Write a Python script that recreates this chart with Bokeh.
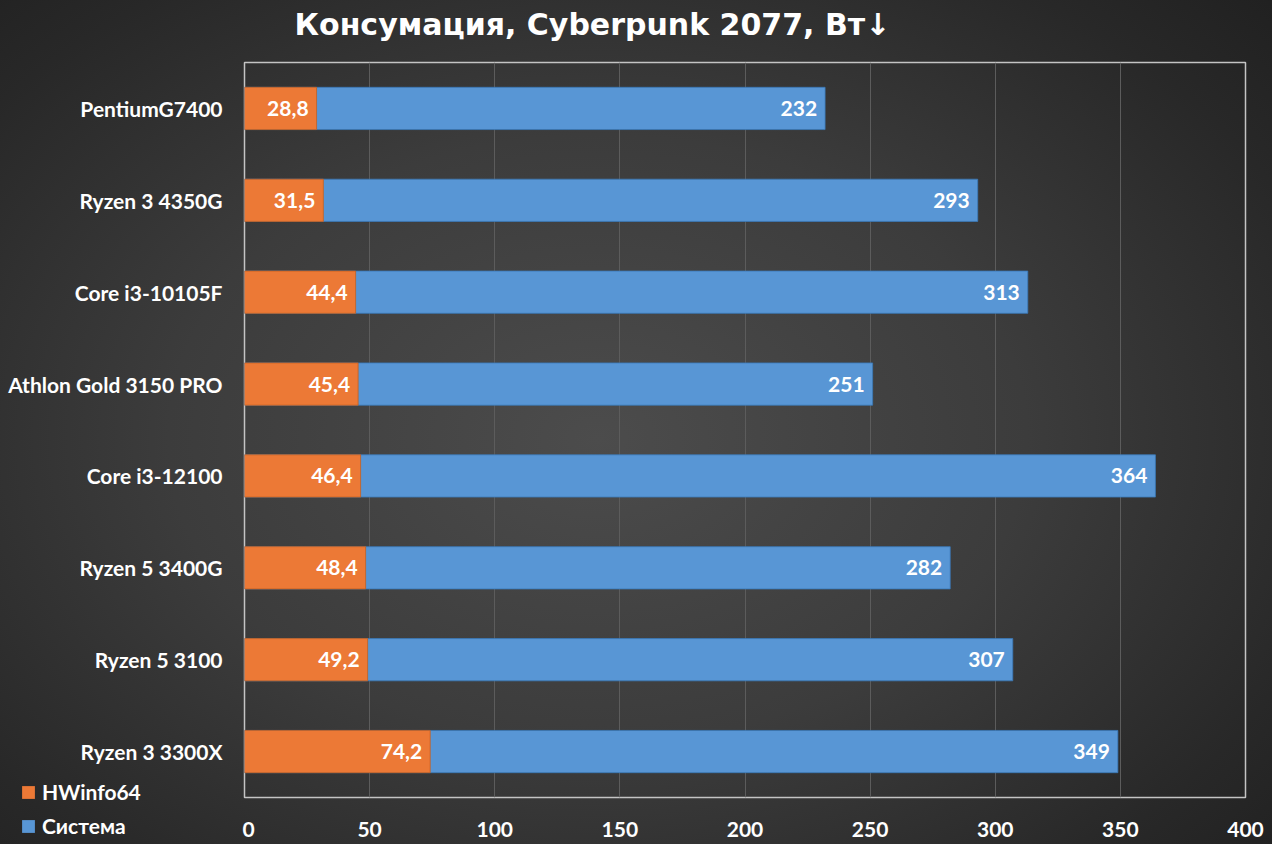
from bokeh.plotting import figure
from bokeh.models import FactorRange, Range1d, ColumnDataSource, LabelSet, Legend, LegendItem, FixedTicker
from bokeh.layouts import row, column
from bokeh.core.properties import value
from bokeh.embed import file_html
from bokeh.resources import INLINE

categories = ["PentiumG7400", "Ryzen 3 4350G", "Core i3-10105F", "Athlon Gold 3150 PRO",
              "Core i3-12100", "Ryzen 5 3400G", "Ryzen 5 3100", "Ryzen 3 3300X"]
hwinfo = [28.8, 31.5, 44.4, 45.4, 46.4, 48.4, 49.2, 74.2]
system = [232, 293, 313, 251, 364, 282, 307, 349]
x_ticks = [0, 50, 100, 150, 200, 250, 300, 350, 400]
series_names = ["HWinfo64", "Система"]
series_colors = ["#EC7936", "#5896D5"]
series_edges = ["#c45f1f", "#3a78b8"]
title_text = "Консумация, Cyberpunk 2077, Вт↓"

FONT = "Lato"
TOTAL_W, TOTAL_H = 1272, 844
LEFT_W = 242
TITLE_H = 50
BORDER_TOP, BORDER_BOTTOM = 62, 47

def fmt(v):
    return ("%g" % v).replace(".", ",")

src = ColumnDataSource(dict(
    cat=categories,
    hw=hwinfo,
    sys=system,
    hw_lbl=[fmt(v) for v in hwinfo],
    sys_lbl=[fmt(v) for v in system],
))

def bare(fig):
    fig.border_fill_color = None
    fig.background_fill_color = None
    fig.outline_line_color = None
    fig.grid.grid_line_color = None
    fig.frame_align = False

# ---------------- title strip ----------------
RIGHT_W = TOTAL_W - LEFT_W
tt = figure(width=RIGHT_W, height=TITLE_H, output_backend="svg", toolbar_location=None,
            x_range=Range1d(0, RIGHT_W), y_range=Range1d(0, TITLE_H),
            x_axis_location=None, y_axis_location=None,
            min_border_left=0, min_border_right=0, min_border_top=0, min_border_bottom=0)
bare(tt)
tt.text(x=[52], y=[TITLE_H - 24], text=[title_text], text_align="left", text_baseline="middle",
        text_color="white", text_font=value("DejaVu Sans"), text_font_size="30px",
        text_font_style="bold")

# ---------------- main chart ----------------
p = figure(width=RIGHT_W, height=TOTAL_H - TITLE_H, output_backend="svg", toolbar_location=None,
           y_range=FactorRange(*reversed(categories), range_padding=0),
           x_range=Range1d(0, 400), y_axis_location=None,
           min_border_left=2, min_border_right=27,
           min_border_top=BORDER_TOP - TITLE_H, min_border_bottom=BORDER_BOTTOM)
p.border_fill_color = None
p.background_fill_color = None
p.frame_align = False

blue = p.hbar(y="cat", left=0, right="sys", height=0.46, source=src,
              fill_color=series_colors[1], line_color=series_edges[1], line_width=0.8)
orange = p.hbar(y="cat", left=0, right="hw", height=0.46, source=src,
                fill_color=series_colors[0], line_color=series_edges[0], line_width=0.8)

for col, lab in (("sys", "sys_lbl"), ("hw", "hw_lbl")):
    p.add_layout(LabelSet(x=col, y="cat", text=lab, source=src, x_offset=-8,
                          text_align="right", text_baseline="middle", text_color="white",
                          text_font=value(FONT), text_font_size="21px", text_font_style="bold"))

p.xaxis.ticker = FixedTicker(ticks=x_ticks)
p.xaxis.major_label_text_color = "white"
p.xaxis.major_label_text_font = FONT
p.xaxis.major_label_text_font_size = "21px"
p.xaxis.major_label_text_font_style = "bold"
p.xaxis.axis_line_color = None
p.xaxis.major_tick_line_color = None
p.xaxis.minor_tick_line_color = None
p.xaxis.major_label_standoff = 18

p.xgrid.grid_line_color = "#5c5c5c"
p.xgrid.grid_line_width = 1
p.ygrid.grid_line_color = None
p.outline_line_color = "#c4c4c4"
p.outline_line_width = 1.5

# ---------------- left column: category labels + legend ----------------
cat_px = (TOTAL_H - BORDER_TOP - BORDER_BOTTOM) / len(categories)
pad = BORDER_BOTTOM / cat_px
left_top = BORDER_TOP - BORDER_BOTTOM

q = figure(width=LEFT_W, height=TOTAL_H, output_backend="svg", toolbar_location=None,
           y_range=FactorRange(*reversed(categories), range_padding=pad,
                               range_padding_units="absolute"),
           x_range=Range1d(0, LEFT_W), x_axis_location=None, y_axis_location=None,
           min_border_left=0, min_border_right=0, min_border_top=left_top, min_border_bottom=0)
bare(q)

q.text(x=LEFT_W - 20, y=categories, text=categories, text_align="right", text_baseline="middle",
       text_color="white", text_font=value(FONT), text_font_size="21px", text_font_style="bold")

# zero-width swatch renderers, only used by the legend
leg_hw = q.hbar(y=categories[:1], left=[0], right=[0], height=0.5,
                fill_color=series_colors[0], line_color=None)
leg_sys = q.hbar(y=categories[:1], left=[0], right=[0], height=0.5,
                 fill_color=series_colors[1], line_color=None)

legend = Legend(items=[LegendItem(label=series_names[0], renderers=[leg_hw]),
                       LegendItem(label=series_names[1], renderers=[leg_sys])],
                location=(20, 6), orientation="vertical",
                background_fill_alpha=0, border_line_color=None,
                label_text_color="white", label_text_font=FONT,
                label_text_font_size="21px", label_text_font_style="bold",
                glyph_width=16, glyph_height=16, label_standoff=6, spacing=9,
                label_height=20, padding=0, margin=0)
q.add_layout(legend, "center")

layout = row(q, column(tt, p, spacing=0), spacing=0)
layout.styles = {"background": "radial-gradient(ellipse 75% 80% at 47% 52%, #4c4c4c 0%, #3c3c3c 45%, #282828 80%, #1f1f1f 100%)"}

open("out.html", "w").write(file_html(layout, INLINE))
